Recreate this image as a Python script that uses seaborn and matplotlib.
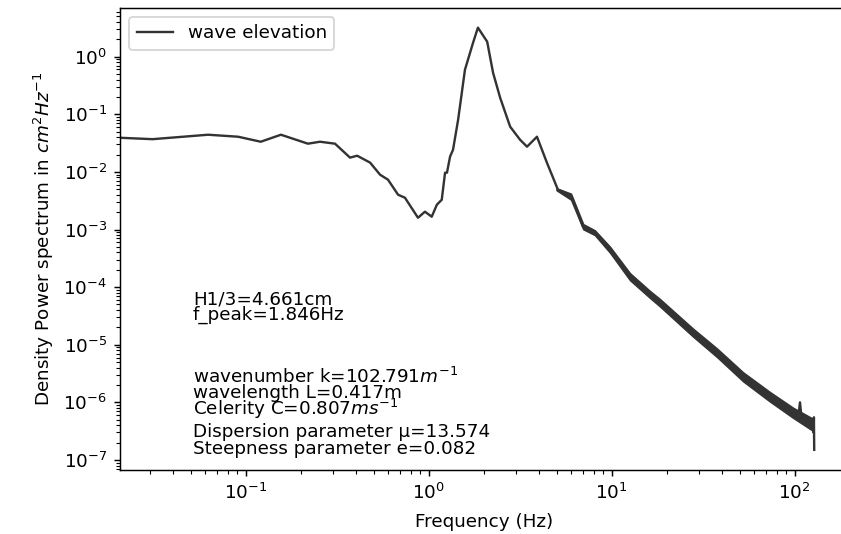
import matplotlib
matplotlib.use("Agg")
import matplotlib.pyplot as plt
import seaborn as sns
import pandas as pd

# Spectrum (Hz, cm^2/Hz)
freq = [0.02, 0.031, 0.0624, 0.091, 0.121, 0.156, 0.219, 0.255, 0.308, 0.372,
        0.407, 0.479, 0.543, 0.600, 0.681, 0.743, 0.875, 0.955, 1.04, 1.11,
        1.18, 1.23, 1.26, 1.31, 1.36, 1.45, 1.58, 1.75, 1.86, 2.09, 2.25, 2.46,
        2.79, 3.16, 3.45, 3.91, 4.43, 5.09, 5.42, 6.08, 6.98, 8.11, 9.80,
        12.6, 16.2, 18.4, 27.9, 37.7, 52.3, 73.4, 98.0, 105.0, 107.0, 109.0,
        126.0, 127.0, 127.5, 128.0]
psd = [0.0393, 0.037, 0.0442, 0.0408, 0.0334, 0.0442, 0.0309, 0.0334, 0.0309, 0.0177,
       0.0191, 0.0145, 0.00894, 0.00733, 0.00402, 0.00356, 0.0016, 0.00204, 0.00167, 0.0027,
       0.00329, 0.00969, 0.0097, 0.0184, 0.0243, 0.0806, 0.594, 1.75, 3.19, 1.82, 0.527, 0.194,
       0.061, 0.0362, 0.0274, 0.0408, 0.0145, 0.00491, 0.00453, 0.00356, 0.00112, 0.00088, 0.000446,
       0.000152, 7.5e-5, 5.36e-5, 1.62e-5, 7.26e-6, 2.78e-6, 1.25e-6, 6.6e-7, 5.9e-7, 1.0e-6, 5.6e-7,
       4.1e-7, 3.0e-7, 5.5e-7, 1.5e-7]

# Envelope of the noisy high-frequency part
freq_band = [5.0, 6.0, 7.0, 8.1, 9.8, 12.6, 16.2, 18.4, 27.9, 37.7, 52.3, 73.4, 98.0, 126.0]
psd_band_upper = [0.0052, 0.0042, 0.00124, 0.00097, 0.000503, 0.000175, 8.6e-5, 6.2e-5,
                  1.9e-5, 8.6e-6, 3.33e-6, 1.51e-6, 8.1e-7, 5.2e-7]
psd_band_lower = [0.0048, 0.0033, 0.00101, 0.0008, 0.000396, 0.000132, 6.5e-5, 4.6e-5,
                  1.38e-5, 6.1e-6, 2.32e-6, 1.03e-6, 5.4e-7, 3.2e-7]

annotations_top = ["H1/3=4.661cm", "f_peak=1.846Hz"]
annotations_bottom = ["wavenumber k=102.791$m^{-1}$", "wavelength L=0.417m",
                      "Celerity C=0.807$ms^{-1}$", "Dispersion parameter \u03bc=13.574",
                      "Steepness parameter e=0.082"]

W, H, DPI = 841, 534, 132
fig = plt.figure(figsize=(W / DPI, H / DPI), dpi=DPI)
ax_left, ax_right = 120, 880
ax = fig.add_axes([ax_left / W, (H - 470) / H, (ax_right - ax_left) / W, 462 / H])
ax.set_xscale("log")
ax.set_yscale("log")
ax.spines["right"].set_visible(False)

df = pd.DataFrame({"freq": freq, "psd": psd})
color = "#333333"
sns.lineplot(data=df, x="freq", y="psd", ax=ax, color=color, label="wave elevation",
             estimator=None, sort=False, linewidth=1.3)
ax.fill_between(freq_band, psd_band_lower, psd_band_upper, color=color, linewidth=0.8)

# 183 px per decade, 10^0 at x=428.6 px
ax.set_xlim(10 ** ((ax_left - 428.6) / 183), 10 ** ((ax_right - 428.6) / 183))
ax.set_ylim(10 ** -7.174, 10 ** 0.845)
ax.set_xlabel("Frequency (Hz)")
ax.xaxis.set_label_coords((484 - ax_left) / (ax_right - ax_left), -0.093)
ax.xaxis.label.set_verticalalignment("top")
ax.set_ylabel("Density Power spectrum in $cm^2Hz^{-1}$")
ax.legend(loc="upper left")

baselines_top = [305, 320]
for s, yb in zip(annotations_top, baselines_top):
    fig.text(193 / W, 1 - yb / H, s, va="baseline", ha="left", fontsize=10)
baselines_bottom = [383, 398, 415, 437, 454]
for s, yb in zip(annotations_bottom, baselines_bottom):
    fig.text(193 / W, 1 - yb / H, s, va="baseline", ha="left", fontsize=10)

fig.savefig("out.png", dpi=DPI)
